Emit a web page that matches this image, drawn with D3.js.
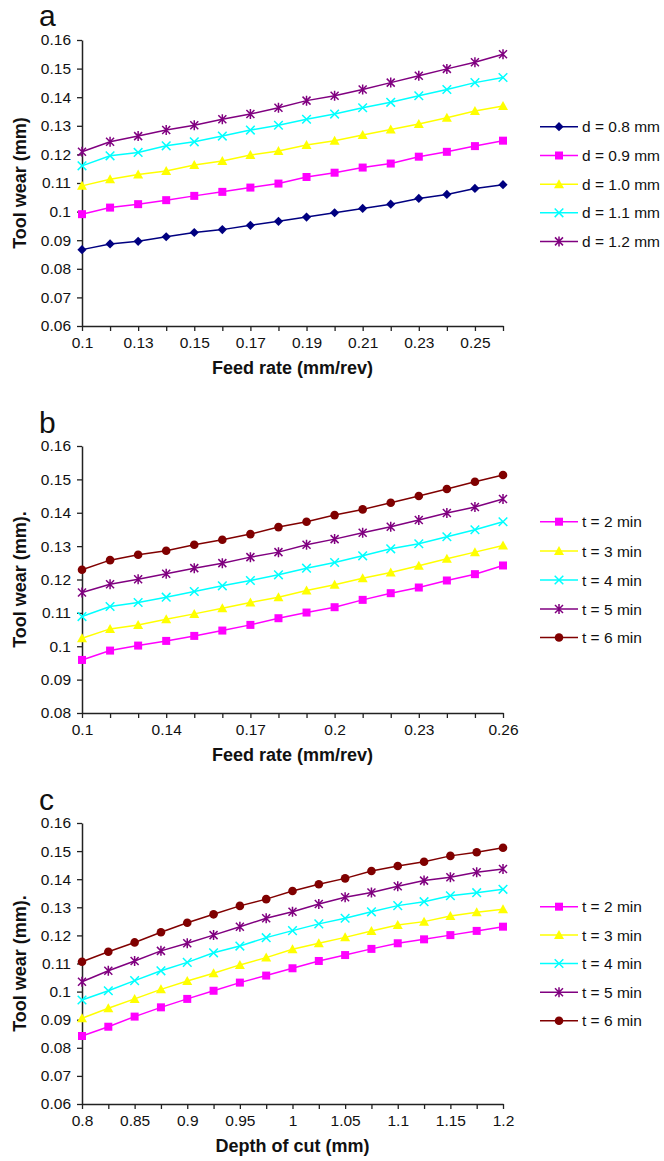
<!DOCTYPE html>
<html>
<head>
<meta charset="utf-8">
<script src="https://cdn.jsdelivr.net/npm/d3@7"></script>
<style>
body { margin: 0; background: #fff; }
text { font-family: "Liberation Sans", Arial, Helvetica, sans-serif; }
</style>
</head>
<body>
<div id="chart"></div>
<script>
// categories (Excel line chart, so they are just labels)
var feedRates = ["0.1", "0.12", "0.13", "0.14", "0.15", "0.16", "0.17", "0.18", "0.19", "0.2",
    "0.21", "0.22", "0.23", "0.24", "0.25", "0.26"];
var depths = ["0.8", "0.825", "0.85", "0.875", "0.9", "0.925", "0.95", "0.975", "1",
    "1.025", "1.05", "1.075", "1.1", "1.125", "1.15", "1.175", "1.2"];

// tick labels that are actually printed
var feedTicksA = ["0.1", "0.13", "0.15", "0.17", "0.19", "0.21", "0.23", "0.25"];
var feedTicksB = ["0.1", "0.14", "0.17", "0.2", "0.23", "0.26"];
var depthTicks = ["0.8", "0.85", "0.9", "0.95", "1", "1.05", "1.1", "1.15", "1.2"];
var yTicksA = [0.06, 0.07, 0.08, 0.09, 0.1, 0.11, 0.12, 0.13, 0.14, 0.15, 0.16];
var yTicksB = [0.08, 0.09, 0.1, 0.11, 0.12, 0.13, 0.14, 0.15, 0.16];
var yTicksC = [0.06, 0.07, 0.08, 0.09, 0.1, 0.11, 0.12, 0.13, 0.14, 0.15, 0.16];

// panel a: tool wear vs feed rate, one line per depth of cut
var wearD08 = [0.0867, 0.0887, 0.0896, 0.0912, 0.0927, 0.0937, 0.0952, 0.0966, 0.0981, 0.0996,
    0.1011, 0.1026, 0.1046, 0.1060, 0.1081, 0.1094];
var wearD09 = [0.0991, 0.1014, 0.1026, 0.1040, 0.1055, 0.1069, 0.1084, 0.1098, 0.1121, 0.1136,
    0.1154, 0.1168, 0.1192, 0.1209, 0.1229, 0.1248];
var wearD10 = [0.1090, 0.1113, 0.1130, 0.1142, 0.1163, 0.1177, 0.1198, 0.1212, 0.1233, 0.1248,
    0.1268, 0.1287, 0.1306, 0.1328, 0.1352, 0.1369];
var wearD11 = [0.1160, 0.1195, 0.1207, 0.1230, 0.1244, 0.1264, 0.1285, 0.1302, 0.1323, 0.1341,
    0.1363, 0.1382, 0.1405, 0.1427, 0.1451, 0.1469];
var wearD12 = [0.1209, 0.1244, 0.1264, 0.1285, 0.1302, 0.1323, 0.1341, 0.1363, 0.1388, 0.1405,
    0.1427, 0.1451, 0.1475, 0.1499, 0.1522, 0.1550];
var depthNames = ["d = 0.8 mm", "d = 0.9 mm", "d = 1.0 mm", "d = 1.1 mm", "d = 1.2 mm"];

// panel b: tool wear vs feed rate, one line per cutting time
var feedT2 = [0.0959, 0.0987, 0.1002, 0.1016, 0.1031, 0.1047, 0.1064, 0.1084, 0.1101, 0.1117,
    0.1139, 0.1159, 0.1176, 0.1197, 0.1216, 0.1242];
var feedT3 = [0.1024, 0.1052, 0.1064, 0.1081, 0.1097, 0.1114, 0.1131, 0.1147, 0.1167, 0.1184,
    0.1204, 0.1221, 0.1241, 0.1262, 0.1282, 0.1302];
var feedT4 = [0.1089, 0.1119, 0.1131, 0.1147, 0.1164, 0.1181, 0.1197, 0.1214, 0.1234, 0.1251,
    0.1271, 0.1292, 0.1307, 0.1328, 0.1349, 0.1373];
var feedT5 = [0.1161, 0.1186, 0.1201, 0.1217, 0.1234, 0.1249, 0.1267, 0.1282, 0.1304, 0.1321,
    0.1340, 0.1358, 0.1378, 0.1399, 0.1417, 0.1441];
var feedT6 = [0.1229, 0.1258, 0.1274, 0.1286, 0.1304, 0.1319, 0.1336, 0.1357, 0.1373, 0.1393,
    0.1410, 0.1430, 0.1450, 0.1471, 0.1493, 0.1513];

// panel c: tool wear vs depth of cut, one line per cutting time
var depthT2 = [0.0842, 0.0875, 0.0911, 0.0944, 0.0974, 0.1003, 0.1032, 0.1057, 0.1083, 0.1109,
    0.1130, 0.1152, 0.1172, 0.1186, 0.1201, 0.1216, 0.1231];
var depthT3 = [0.0905, 0.0941, 0.0974, 0.1008, 0.1038, 0.1065, 0.1095, 0.1121, 0.1151, 0.1172,
    0.1193, 0.1216, 0.1237, 0.1249, 0.1269, 0.1282, 0.1293];
var depthT4 = [0.0970, 0.1003, 0.1039, 0.1074, 0.1104, 0.1138, 0.1162, 0.1192, 0.1217, 0.1241,
    0.1261, 0.1284, 0.1306, 0.1320, 0.1341, 0.1352, 0.1364];
var depthT5 = [0.1035, 0.1074, 0.1109, 0.1145, 0.1172, 0.1201, 0.1231, 0.1261, 0.1284, 0.1312,
    0.1336, 0.1353, 0.1375, 0.1395, 0.1407, 0.1425, 0.1436];
var depthT6 = [0.1106, 0.1142, 0.1175, 0.1211, 0.1245, 0.1275, 0.1305, 0.1329, 0.1358, 0.1382,
    0.1403, 0.1429, 0.1447, 0.1462, 0.1483, 0.1496, 0.1512];
var timeNames = ["t = 2 min", "t = 3 min", "t = 4 min", "t = 5 min", "t = 6 min"];

var navy = "#000080", magenta = "#ff00ff", yellow = "#ffff00", cyan = "#00ffff",
    purple = "#800080", darkRed = "#800000";

var width = 664, height = 1161;
var left = 82, right = 503;

var panels = [
    {
        letter: "a", letterY: 26, top: 40, bottom: 326,
        cats: feedRates, xTicks: feedTicksA, yTicks: yTicksA, yDomain: [0.06, 0.16],
        xTitle: "Feed rate (mm/rev)", yTitle: "Tool wear (mm)",
        legendY: [126.7, 155.5, 184.2, 212.8, 241.4],
        series: [
            { name: depthNames[0], values: wearD08, color: navy, marker: "diamond" },
            { name: depthNames[1], values: wearD09, color: magenta, marker: "square" },
            { name: depthNames[2], values: wearD10, color: yellow, marker: "triangle" },
            { name: depthNames[3], values: wearD11, color: cyan, marker: "x" },
            { name: depthNames[4], values: wearD12, color: purple, marker: "star" }
        ]
    },
    {
        letter: "b", letterY: 433, top: 446, bottom: 713,
        cats: feedRates, xTicks: feedTicksB, yTicks: yTicksB, yDomain: [0.08, 0.16],
        xTitle: "Feed rate (mm/rev)", yTitle: "Tool wear (mm).",
        legendY: [521.7, 551, 580, 609, 637.5],
        series: [
            { name: timeNames[0], values: feedT2, color: magenta, marker: "square" },
            { name: timeNames[1], values: feedT3, color: yellow, marker: "triangle" },
            { name: timeNames[2], values: feedT4, color: cyan, marker: "x" },
            { name: timeNames[3], values: feedT5, color: purple, marker: "star" },
            { name: timeNames[4], values: feedT6, color: darkRed, marker: "circle" }
        ]
    },
    {
        letter: "c", letterY: 810, top: 823, bottom: 1104,
        cats: depths, xTicks: depthTicks, yTicks: yTicksC, yDomain: [0.06, 0.16],
        xTitle: "Depth of cut (mm)", yTitle: "Tool wear (mm).",
        legendY: [906.7, 935, 963.5, 992.2, 1020.7],
        series: [
            { name: timeNames[0], values: depthT2, color: magenta, marker: "square" },
            { name: timeNames[1], values: depthT3, color: yellow, marker: "triangle" },
            { name: timeNames[2], values: depthT4, color: cyan, marker: "x" },
            { name: timeNames[3], values: depthT5, color: purple, marker: "star" },
            { name: timeNames[4], values: depthT6, color: darkRed, marker: "circle" }
        ]
    }
];

var svg = d3.select("#chart")
    .append("svg")
    .attr("width", width)
    .attr("height", height);

// draws one marker centred on 0,0
function drawMarker(g, type, color) {
    if (type === "square") {
        g.append("rect").attr("x", -4).attr("y", -4).attr("width", 8).attr("height", 8)
            .attr("fill", color);
    } else if (type === "diamond") {
        g.append("path").attr("d", "M0,-4.6L4.6,0L0,4.6L-4.6,0Z").attr("fill", color);
    } else if (type === "triangle") {
        g.append("path").attr("d", "M0,-5L5,4L-5,4Z").attr("fill", color);
    } else if (type === "circle") {
        g.append("circle").attr("r", 4.3).attr("fill", color);
    } else if (type === "x") {
        g.append("path").attr("d", "M-4.3,-4.3L4.3,4.3M4.3,-4.3L-4.3,4.3")
            .attr("stroke", color).attr("stroke-width", 1.5).attr("fill", "none");
    } else if (type === "star") {
        g.append("path").attr("d", "M-4,-4L4,4M4,-4L-4,4M0,-5L0,5")
            .attr("stroke", color).attr("stroke-width", 1.5).attr("fill", "none");
    }
}

panels.forEach(function (p) {
    var x = d3.scalePoint().domain(p.cats).range([left, right]);
    var y = d3.scaleLinear().domain(p.yDomain).range([p.bottom, p.top]);
    var g = svg.append("g");

    // axes
    var xAxis = g.append("g")
        .attr("transform", "translate(0," + p.bottom + ")")
        .call(d3.axisBottom(x)
            .tickSizeInner(5).tickSizeOuter(0).tickPadding(6)
            .tickFormat(d => p.xTicks.includes(d) ? d : ""));
    var yAxis = g.append("g")
        .attr("transform", "translate(" + left + ",0)")
        .call(d3.axisLeft(y)
            .tickValues(p.yTicks)
            .tickSizeInner(5).tickSizeOuter(0).tickPadding(6)
            .tickFormat(d => String(+d.toFixed(2))));
    [xAxis, yAxis].forEach(function (a) {
        a.select(".domain").attr("stroke", "#222").attr("stroke-width", 1.5);
        a.selectAll(".tick line").attr("stroke", "#222").attr("stroke-width", 1.3);
        a.selectAll(".tick text").attr("fill", "#111").style("font-size", "15.5px")
            .style("font-family", "'Liberation Sans', Arial, sans-serif");
    });

    // titles
    g.append("text")
        .attr("x", (left + right) / 2)
        .attr("y", p.bottom + 48)
        .attr("text-anchor", "middle")
        .attr("font-weight", "bold")
        .attr("font-size", "18px")
        .attr("fill", "#111")
        .text(p.xTitle);
    g.append("text")
        .attr("transform", "translate(26," + (p.top + p.bottom) / 2 + ") rotate(-90)")
        .attr("text-anchor", "middle")
        .attr("font-weight", "bold")
        .attr("font-size", "18px")
        .attr("fill", "#111")
        .text(p.yTitle);
    g.append("text")
        .attr("x", 39)
        .attr("y", p.letterY)
        .attr("font-size", "30px")
        .attr("fill", "#111")
        .text(p.letter);

    // series
    var line = d3.line()
        .x((d, i) => x(p.cats[i]))
        .y(d => y(d));

    p.series.forEach(function (s) {
        g.append("path")
            .datum(s.values)
            .attr("fill", "none")
            .attr("stroke", s.color)
            .attr("stroke-width", 1.5)
            .attr("d", line);
        s.values.forEach(function (v, i) {
            var m = g.append("g")
                .attr("transform", "translate(" + x(p.cats[i]) + "," + y(v) + ")");
            drawMarker(m, s.marker, s.color);
        });
    });

    // legend
    p.series.forEach(function (s, i) {
        var ly = p.legendY[i];
        var item = g.append("g").attr("transform", "translate(0," + ly + ")");
        item.append("line")
            .attr("x1", 540).attr("x2", 578)
            .attr("stroke", s.color).attr("stroke-width", 1.5);
        var m = item.append("g").attr("transform", "translate(559,0)");
        drawMarker(m, s.marker, s.color);
        item.append("text")
            .attr("x", 582)
            .attr("dy", "0.36em")
            .attr("font-size", "15.5px")
            .attr("fill", "#111")
            .text(s.name);
    });
});
</script>
</body>
</html>
